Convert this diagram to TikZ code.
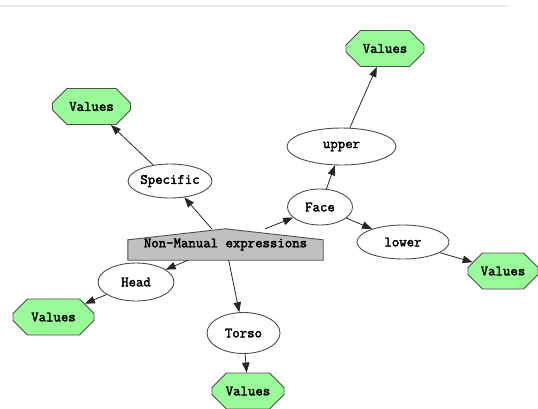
\documentclass[tikz,border=0pt]{standalone}
\usepackage{fontspec}
\newfontfamily\nodefont[FakeBold=2.4]{Latin Modern Mono}
\usepackage{xcolor}
\usepackage{tikz}
\usetikzlibrary{shapes.geometric,shapes.misc,arrows.meta,backgrounds,calc}

\definecolor{valgreen}{HTML}{98FB98}
\definecolor{nmgray}{HTML}{C0C0C0}
\definecolor{edgegray}{HTML}{4D4D4D}

\begin{document}
\begin{tikzpicture}[
    x=1pt, y=-1pt,
    every node/.style={font=\nodefont\fontsize{14.4}{16}\selectfont},
    item/.style={ellipse, draw=edgegray, fill=white, line width=0.9pt,
                 inner sep=0pt, minimum height=36pt},
    valbox/.style={chamfered rectangle, chamfered rectangle xsep=13pt,
                   chamfered rectangle ysep=10pt, draw=edgegray, fill=valgreen,
                   line width=0.9pt, inner sep=0pt, minimum width=78pt, minimum height=36pt},
    nmbox/.style={rectangle, inner sep=0pt, minimum width=195pt, minimum height=31pt},
    arrow/.style={-{Triangle[length=10pt,width=7.5pt]}, draw=black!85, line width=0.8pt}
]
\useasboundingbox (0,0) rectangle (538,408);
\draw[black!8, line width=1.2pt] (0,6) -- (508,6);

% centre node
\node[nmbox] (nm) at (225.5,244.5) {\raisebox{-2.5pt}{Non-Manual expressions}};
\begin{scope}[on background layer]
\draw[fill=nmgray, draw=edgegray, line width=0.9pt]
    (nm.south west) -- ([yshift=-11pt]nm.north west) -- (nm.north)
    -- ([yshift=-11pt]nm.north east) -- (nm.south east) -- cycle;
\end{scope}

% first level
\node[item, minimum width=83pt, minimum height=34pt] (specific) at (170,181) {Specific};
\node[item, minimum width=65pt] (face) at (320,207) {Face};
\node[item, minimum width=76pt, minimum height=38pt] (head) at (136,282) {Head};
\node[item, minimum width=73pt, minimum height=41pt] (torso) at (243.5,333) {Torso};

% second level
\node[item, minimum width=109pt, minimum height=37pt] (upper) at (341.5,146.5) {upper};
\node[item, minimum width=92pt, minimum height=34pt] (lower) at (403,242) {lower};

% values
\node[valbox] (valspec) at (91.5,106.5) {Values};
\node[valbox] (valupper) at (385,48.5) {Values};
\node[valbox, minimum width=70pt] (vallower) at (503,271) {Values};
\node[valbox, minimum width=81pt] (valhead) at (53.5,317) {Values};
\node[valbox, minimum width=72pt] (valtorso) at (248,391) {Values};

\draw[arrow] (nm) -- (specific);
\draw[arrow] (nm) -- (face);
\draw[arrow] (nm) -- (head);
\draw[arrow] (nm) -- (torso);
\draw[arrow] (face) -- (upper);
\draw[arrow] (face) -- (lower);
\draw[arrow] (specific) -- (valspec);
\draw[arrow] (upper) -- (valupper);
\draw[arrow] (lower) -- (vallower);
\draw[arrow] (head) -- (valhead);
\draw[arrow] (torso) -- (valtorso);
\end{tikzpicture}
\end{document}
